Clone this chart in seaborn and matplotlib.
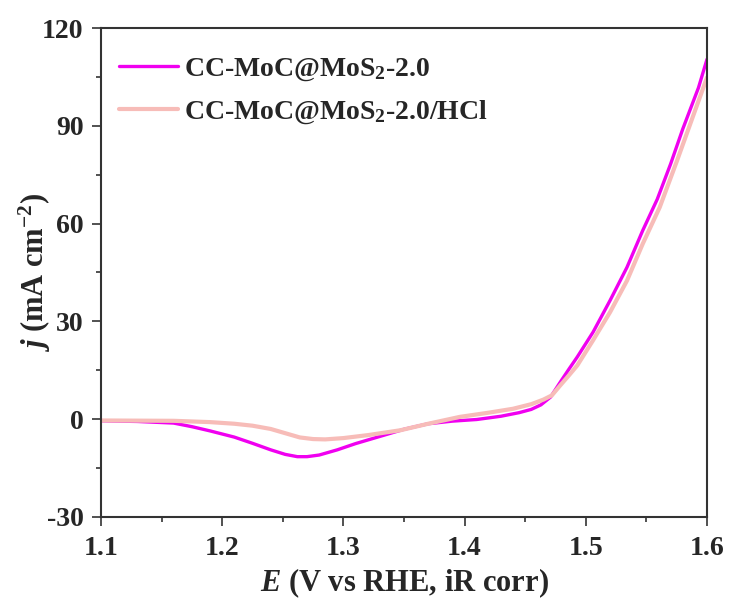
import matplotlib
matplotlib.use("Agg")
import matplotlib.pyplot as plt
from matplotlib.ticker import MultipleLocator
import pandas as pd
import seaborn as sns

# Potential (V vs RHE) and current density (mA cm^-2) for the two electrodes
e_pristine = [1.100, 1.130, 1.160, 1.175, 1.190, 1.210, 1.225, 1.240, 1.252, 1.262,
              1.270, 1.280, 1.295, 1.310, 1.330, 1.350, 1.370, 1.390, 1.410, 1.430,
              1.445, 1.455, 1.463, 1.471, 1.479, 1.486, 1.493, 1.506, 1.520, 1.534,
              1.547, 1.559, 1.570, 1.580, 1.593, 1.600]
j_pristine = [-0.5, -0.7, -1.2, -2.3, -3.6, -5.5, -7.4, -9.4, -10.8, -11.5,
              -11.5, -11.0, -9.4, -7.5, -5.3, -3.1, -1.4, -0.6, -0.1, 0.9,
              2.0, 3.0, 4.4, 6.8, 11.4, 15.3, 19.1, 26.7, 36.4, 46.6,
              57.9, 67.5, 78.3, 89.0, 101.7, 110.4]

e_acid = [1.100, 1.160, 1.190, 1.210, 1.225, 1.240, 1.252, 1.264, 1.275, 1.285,
          1.300, 1.320, 1.347, 1.370, 1.396, 1.420, 1.440, 1.455, 1.465, 1.472,
          1.479, 1.486, 1.493, 1.506, 1.520, 1.534, 1.547, 1.561, 1.575, 1.590, 1.600]
j_acid = [-0.4, -0.5, -0.9, -1.4, -2.0, -3.0, -4.3, -5.6, -6.1, -6.2,
          -5.8, -4.9, -3.4, -1.4, 0.7, 2.0, 3.2, 4.6, 6.0, 7.3,
          10.4, 13.4, 16.5, 24.2, 32.8, 42.5, 53.8, 65.0, 79.0, 94.5, 104.8]

labels = [r"CC-MoC@MoS$_2$-2.0", r"CC-MoC@MoS$_2$-2.0/HCl"]
colors = ["#F000F0", "#F7BCB8"]

x_ticks = [1.1, 1.2, 1.3, 1.4, 1.5, 1.6]
y_ticks = [-30, 0, 30, 60, 90, 120]

df = pd.concat([
    pd.DataFrame({"E": e_pristine, "j": j_pristine, "sample": labels[0]}),
    pd.DataFrame({"E": e_acid, "j": j_acid, "sample": labels[1]}),
], ignore_index=True)

sns.set_theme(style="ticks")
plt.rcParams.update({
    "font.family": ["Liberation Serif", "DejaVu Serif"],
    "font.weight": "bold",
    "mathtext.fontset": "custom",
    "mathtext.rm": "Liberation Serif:bold",
    "mathtext.bf": "Liberation Serif:bold",
    "mathtext.it": "Liberation Serif:italic:bold",
    "mathtext.default": "rm",
    "axes.edgecolor": "#333333",
    "axes.linewidth": 1.5,
})

fig = plt.figure(figsize=(7.33, 6.05), dpi=100)
ax = fig.add_axes([0.1378, 0.1455, 0.8267, 0.8082])

widths = [2.4, 3.0]
for lab, col, lw in zip(labels, colors, widths):
    sns.lineplot(data=df[df["sample"] == lab], x="E", y="j", color=col,
                 linewidth=lw, label=lab, sort=False, estimator=None, ax=ax)

ax.set_xlim(1.1, 1.6)
ax.set_ylim(-30, 120)
ax.set_xticks(x_ticks)
ax.set_yticks(y_ticks)
ax.set_xticklabels([f"{v:.1f}" for v in x_ticks])
ax.set_yticklabels([str(v) for v in y_ticks])
ax.xaxis.set_minor_locator(MultipleLocator(0.05))
ax.yaxis.set_minor_locator(MultipleLocator(15))
ax.tick_params(which="major", direction="out", length=6.5, width=1.2,
               labelsize=20, pad=6, color="#333333", top=False, right=False)
ax.tick_params(axis="x", which="major", pad=7)
ax.tick_params(which="minor", direction="out", length=3.5, width=1.2,
               color="#333333", top=False, right=False)
for lbl in ax.get_xticklabels() + ax.get_yticklabels():
    lbl.set_fontweight("bold")

ax.set_xlabel(r"$\it{E}$ (V vs RHE, iR corr)", fontsize=22, fontweight="bold", labelpad=4)
ax.set_ylabel(r"$\it{j}$ (mA cm$^{-2}$)", fontsize=22, fontweight="bold", labelpad=-8)

ax.legend(loc="upper left", bbox_to_anchor=(0.03, 0.942), frameon=False,
          handlelength=2.1, handletextpad=0.25, labelspacing=0.55,
          borderpad=0, borderaxespad=0, prop={"weight": "bold", "size": 20})

fig.savefig("out.png", dpi=100)
